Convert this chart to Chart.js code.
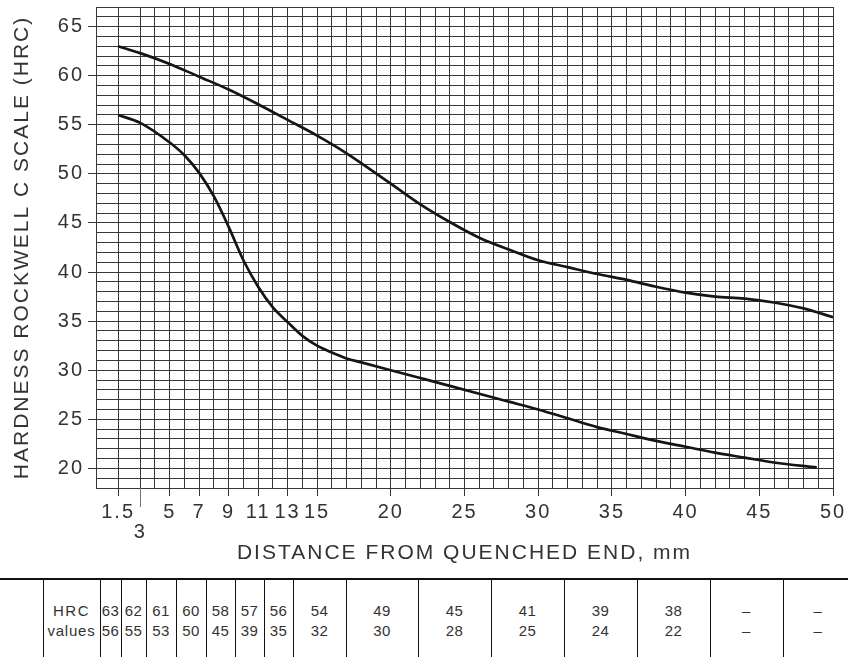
<!DOCTYPE html>
<html>
<head>
<meta charset="utf-8">
<script src="https://cdn.jsdelivr.net/npm/chart.js@4.4.1/dist/chart.umd.min.js"></script>
<style>
  html, body { margin: 0; padding: 0; background: #fff; }
  #wrap { position: relative; width: 848px; height: 657px; overflow: hidden; font-family: "Liberation Sans", Arial, sans-serif; }
  #c { position: absolute; left: 0; top: 0; }
  #tbl { position: absolute; left: 0; top: 578px; width: 848px; height: 79px; border-top: 2px solid #111; }
  .vl { position: absolute; top: 0; width: 1px; height: 79px; background: #111; }
  .cell { position: absolute; text-align: center; font-size: 15px; color: #333; line-height: 20px; letter-spacing: 0.5px; }
</style>
</head>
<body>
<div id="wrap">
  <canvas id="c" width="848" height="578"></canvas>
  <div id="tbl"></div>
</div>
<script>
// ---- data ----
const upperX = [1.5, 3, 5, 7, 9, 11, 13, 15, 17, 20, 22, 24, 26, 28, 30, 32, 34, 36, 38, 40, 42, 44, 46, 48, 50];
const upperY = [63, 62.3, 61.2, 59.9, 58.6, 57.1, 55.5, 53.9, 52.1, 49.0, 46.9, 45.1, 43.5, 42.3, 41.2, 40.5, 39.8, 39.2, 38.5, 37.9, 37.5, 37.3, 36.9, 36.3, 35.4];
const lowerX = [1.5, 3, 5, 6, 7, 8, 9, 10, 11, 12, 13, 14, 15, 16, 17, 18, 20, 22, 24, 26, 28, 30, 32, 34, 36, 38, 40, 42, 44, 46, 48.9];
const lowerY = [56, 55.2, 53.2, 51.9, 50.1, 47.7, 44.6, 41.2, 38.5, 36.4, 34.9, 33.5, 32.5, 31.8, 31.2, 30.8, 30.0, 29.2, 28.4, 27.6, 26.8, 26.0, 25.1, 24.2, 23.5, 22.8, 22.2, 21.6, 21.1, 20.6, 20.1];
const xTickLabels = [1.5, 3, 5, 7, 9, 11, 13, 15, 20, 25, 30, 35, 40, 45, 50];
const yTickLabels = [20, 25, 30, 35, 40, 45, 50, 55, 60, 65];
const tableHeader = ["HRC", "values"];
const tableUpper = ["63", "62", "61", "60", "58", "57", "56", "54", "49", "45", "41", "39", "38", "–", "–"];
const tableLower = ["56", "55", "53", "50", "45", "39", "35", "32", "30", "28", "25", "24", "22", "–", "–"];
const xTitle = "DISTANCE FROM QUENCHED END, mm";
const yTitle = "HARDNESS ROCKWELL C SCALE (HRC)";

// ---- grid positions (1 mm / 1 HRC grid) ----
const xGrid = [0, 1.5];
for (let v = 3; v <= 50; v++) xGrid.push(v);

const FONT = "'Liberation Sans', Arial, sans-serif";
const INK = '#333';
const GRID = '#383838';
const SPACING = '2px';

const spacingPlugin = {
  id: 'spacing',
  beforeUpdate(chart) { chart.ctx.letterSpacing = SPACING; },
  beforeLayout(chart) { chart.ctx.letterSpacing = SPACING; },
  beforeDraw(chart) { chart.ctx.letterSpacing = SPACING; }
};

const extraTick = {
  id: 'extraTick',
  afterDraw(chart) {
    const xs = chart.scales.x;
    const ctx = chart.ctx;
    const px = Math.round(xs.getPixelForValue(3)) + 0.5;
    ctx.save();
    ctx.strokeStyle = '#777';
    ctx.lineWidth = 1;
    ctx.beginPath();
    ctx.moveTo(px, chart.chartArea.bottom);
    ctx.lineTo(px, chart.chartArea.bottom + 19);
    ctx.stroke();
    ctx.restore();
  }
};

new Chart(document.getElementById('c'), {
  type: 'line',
  data: {
    datasets: [
      { data: upperX.map((x, i) => ({ x, y: upperY[i] })), borderColor: '#151515', borderWidth: 2.7, pointRadius: 0, cubicInterpolationMode: 'monotone', fill: false },
      { data: lowerX.map((x, i) => ({ x, y: lowerY[i] })), borderColor: '#151515', borderWidth: 2.7, pointRadius: 0, cubicInterpolationMode: 'monotone', fill: false }
    ]
  },
  options: {
    responsive: false,
    animation: false,
    devicePixelRatio: 1,
    layout: { padding: { left: 0, top: 7, right: 15, bottom: 0 } },
    plugins: { legend: { display: false }, tooltip: { enabled: false } },
    scales: {
      x: {
        type: 'linear', min: 0, max: 50,
        afterBuildTicks: s => { s.ticks = xGrid.map(v => ({ value: v })); },
        afterFit: s => { s.height = 90; s.paddingLeft = 0; s.paddingRight = 0; },
        grid: {
          color: GRID, lineWidth: 1, tickLength: 8,
          tickColor: c => xTickLabels.includes(c.tick && c.tick.value) ? GRID : 'rgba(0,0,0,0)'
        },
        border: { display: true, color: GRID },
        ticks: {
          autoSkip: false, maxRotation: 0, minRotation: 0, padding: 6,
          color: INK, font: { family: FONT, size: 20, lineHeight: 1.0 },
          callback: v => {
            if (!xTickLabels.includes(v)) return '';
            if (v === 3) return ['', '3'];
            return String(v);
          }
        },
        title: { display: true, text: xTitle, color: INK, font: { family: FONT, size: 21, lineHeight: 1.2 }, padding: { top: 0, bottom: 12 } }
      },
      y: {
        type: 'linear', min: 18, max: 67,
        ticks: {
          stepSize: 1, autoSkip: false, padding: 4,
          color: INK, font: { family: FONT, size: 20 },
          callback: v => yTickLabels.includes(v) ? String(v) : ''
        },
        afterFit: s => { s.width = 96; s.paddingTop = 0; s.paddingBottom = 0; },
        grid: {
          color: GRID, lineWidth: 1, tickLength: 8,
          tickColor: c => yTickLabels.includes(c.tick && c.tick.value) ? GRID : 'rgba(0,0,0,0)'
        },
        border: { display: true, color: GRID },
        title: { display: true, text: yTitle, color: INK, font: { family: FONT, size: 21, lineHeight: 1.2 }, padding: { top: 10, bottom: 0 } }
      }
    }
  },
  plugins: [spacingPlugin, extraTick]
});

// ---- table under the chart ----
const colEdges = [43, 100, 121, 146, 176, 206, 235, 264, 293, 346, 418, 491, 564, 637, 710, 783, 853];
const tbl = document.getElementById('tbl');
for (let i = 0; i < colEdges.length - 1; i++) {
  const vl = document.createElement('div');
  vl.className = 'vl';
  vl.style.left = colEdges[i] + 'px';
  tbl.appendChild(vl);
}
function cell(text, l, r, top, extra) {
  const d = document.createElement('div');
  d.className = 'cell';
  d.style.left = l + 'px';
  d.style.width = (r - l) + 'px';
  d.style.top = top + 'px';
  if (extra) Object.assign(d.style, extra);
  d.textContent = text;
  tbl.appendChild(d);
}
cell(tableHeader[0], colEdges[0], colEdges[1], 21, { letterSpacing: '1.5px' });
cell(tableHeader[1], colEdges[0], colEdges[1], 41, { letterSpacing: '0.8px' });
for (let i = 0; i < tableUpper.length; i++) {
  cell(tableUpper[i], colEdges[i + 1], colEdges[i + 2], 21);
  cell(tableLower[i], colEdges[i + 1], colEdges[i + 2], 41);
}
</script>
</body>
</html>
